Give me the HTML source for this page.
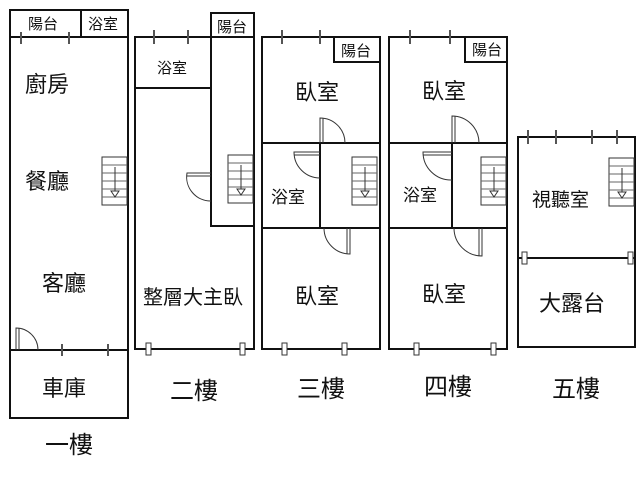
<!DOCTYPE html>
<html><head><meta charset="utf-8"><style>
body{margin:0;background:#fff}
text{font-family:"Liberation Sans","Noto Sans CJK TC",sans-serif;fill:#111}
</style></head><body>
<svg width="640" height="480" viewBox="0 0 640 480" xmlns="http://www.w3.org/2000/svg">
<defs>
<g id="st">
<rect x="0" y="0" width="25" height="48" fill="#fff" stroke="#333" stroke-width="1"/>
<path d="M0 8H25M0 16H25M0 24H25M0 32H25M0 40H25" stroke="#666" stroke-width="1"/>
<path d="M13 10V34" stroke="#333"/>
<path d="M9 34L17 34L13 40Z" fill="#fff" stroke="#333"/>
</g>
</defs>
<g fill="none" stroke="#111" stroke-width="2">
<rect x="10" y="10" width="118" height="408"/>
<path d="M10 37H128M81 10V37M10 350H128"/>
<rect x="135" y="37" width="119" height="312"/>
<rect x="211" y="13" width="43" height="213"/>
<path d="M211 37H254M135 88H211"/>
<rect x="262" y="37" width="118" height="312"/>
<path d="M334 37V62H380M262 143H380M262 228H380M320 143V228"/>
<rect x="389" y="37" width="118" height="312"/>
<path d="M465 37V62H507M389 143H507M389 228H507M452 143V228"/>
<rect x="518" y="137" width="117" height="210"/>
<path d="M518 258H635"/>
</g>
<g fill="none" stroke="#333" stroke-width="1">
<path d="M16 350V328A22 22 0 0 1 38 350"/><path d="M19 350V328"/>
<path d="M211 173H187A24 24 0 0 0 211 201"/><path d="M187 176H211"/>
<path d="M320 143V118A25 25 0 0 1 345 143"/><path d="M323 143V118"/>
<path d="M320 152H294A26 26 0 0 0 320 178"/><path d="M294 155H320"/>
<path d="M350 228V254A26 26 0 0 1 324 228"/><path d="M347 228V254"/>
<path d="M452 143V116A27 27 0 0 1 479 143"/><path d="M455 143V116"/>
<path d="M452 152H423A28 28 0 0 0 452 180"/><path d="M423 155H452"/>
<path d="M482 228V256A28 28 0 0 1 454 228"/><path d="M479 228V256"/>
</g>
<g stroke="#555" stroke-width="2">
<path d="M21 32V44M69 32V44M62 344V356M108 344V356M154 30V44M188 30V44M282 30V44M320 30V44M410 30V44M450 30V44M528 130V144M556 130V144M592 130V144M617 130V144"/>
</g>
<g fill="#fff" stroke="#333" stroke-width="1">
<rect x="146" y="343" width="5" height="12"/><rect x="240" y="343" width="5" height="12"/>
<rect x="282" y="343" width="5" height="12"/><rect x="342" y="343" width="5" height="12"/>
<rect x="414" y="343" width="5" height="12"/><rect x="491" y="343" width="5" height="12"/>
<rect x="522" y="252" width="5" height="12"/><rect x="628" y="252" width="5" height="12"/>
</g>
<use href="#st" x="102" y="157"/>
<use href="#st" x="228" y="155"/>
<use href="#st" x="352" y="157"/>
<use href="#st" x="481" y="157"/>
<use href="#st" x="609" y="158"/>
<g font-size="15">
<text x="28" y="29">陽台</text><text x="88" y="29">浴室</text>
<text x="157" y="73">浴室</text><text x="217" y="32">陽台</text>
<text x="341" y="56">陽台</text><text x="472" y="55">陽台</text>
</g>
<g font-size="17">
<text x="271" y="203">浴室</text><text x="403" y="201">浴室</text>
</g>
<g font-size="22">
<text x="25" y="92">廚房</text><text x="25" y="189">餐廳</text>
<text x="42" y="291">客廳</text><text x="42" y="396">車庫</text>
<text x="295" y="100">臥室</text><text x="422" y="99">臥室</text>
<text x="295" y="304">臥室</text><text x="422" y="302">臥室</text>
<text x="539" y="311">大露台</text>
</g>
<text x="143" y="304" font-size="20">整層大主臥</text>
<text x="532" y="206" font-size="19">視聽室</text>
<g font-size="24">
<text x="45" y="453">一樓</text><text x="170" y="399">二樓</text>
<text x="297" y="397">三樓</text><text x="424" y="395">四樓</text>
<text x="552" y="397">五樓</text>
</g>
</svg>
</body></html>
